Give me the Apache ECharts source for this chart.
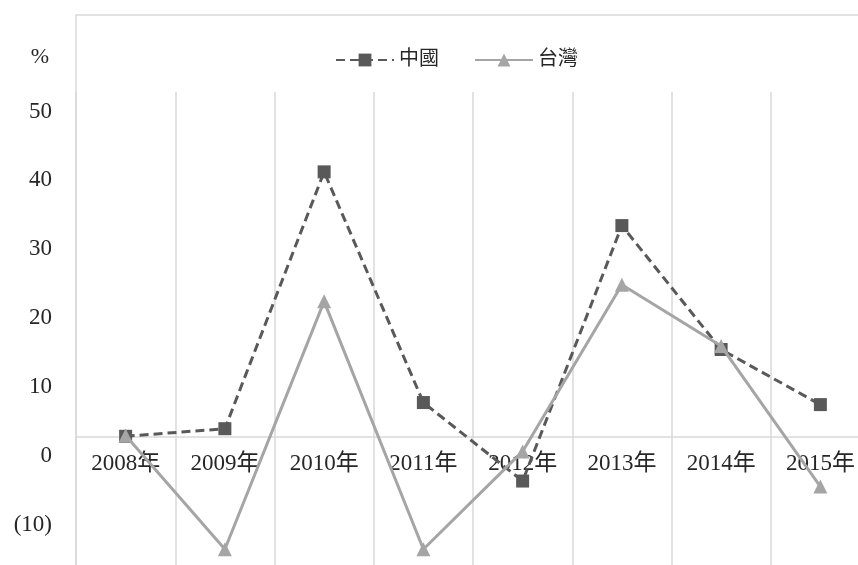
<!DOCTYPE html>
<html>
<head>
<meta charset="utf-8">
<script src="https://cdn.jsdelivr.net/npm/echarts@6/dist/echarts.min.js"></script>
<style>html,body{margin:0;padding:0;background:#fff;}#c{width:858px;height:565px;}</style>
</head>
<body>
<div id="c"></div>
<script>
const categories = ['2008年','2009年','2010年','2011年','2012年','2013年','2014年','2015年'];
const chinaValues = [0.0, 1.1, 38.4, 4.9, -6.5, 30.6, 12.6, 4.6];
const taiwanValues = [0.1, -16.4, 19.6, -16.4, -2.2, 22.0, 13.1, -7.3];
const seriesNames = ['中國', '台灣'];
const yUnit = '%';
const yMin = -20, yMax = 50, yStep = 10;

const FONT = '"Liberation Serif", "Noto Sans CJK TC", serif';
const gridTop = 92, gridBottom = -9, H = 565;
const plotH = H - gridTop - gridBottom;
const zeroOffset = -((0 - yMin) / (yMax - yMin)) * plotH;

const chart = echarts.init(document.getElementById('c'), null, {renderer: 'canvas'});
chart.setOption({
  backgroundColor: '#ffffff',
  animation: false,
  graphic: [{
    type: 'rect', z: -10, silent: true,
    shape: {x: 76, y: 15, width: 900, height: 700},
    style: {fill: null, stroke: '#d9d9d9', lineWidth: 1.5}
  }],
  legend: {
    left: 330, top: 45,
    itemWidth: 58, itemHeight: 16, itemGap: 35,
    textStyle: {fontFamily: FONT, fontSize: 20, color: '#262626'},
    data: seriesNames
  },
  grid: {left: 76, right: -12, top: gridTop, bottom: gridBottom, containLabel: false, outerBoundsMode: 'none'},
  xAxis: [{
    type: 'category',
    data: categories,
    boundaryGap: true,
    axisLine: {show: false},
    axisTick: {show: false},
    axisLabel: {show: false},
    splitLine: {show: true, lineStyle: {color: '#d9d9d9', width: 1.5}}
  }, {
    type: 'category',
    data: categories,
    position: 'bottom',
    boundaryGap: true,
    offset: zeroOffset,
    axisLine: {show: true, onZero: false, lineStyle: {color: '#d9d9d9', width: 1.5}},
    axisTick: {show: false},
    splitLine: {show: false},
    axisLabel: {fontFamily: FONT, fontSize: 23, color: '#262626', margin: 16, interval: 0}
  }],
  yAxis: {
    type: 'value',
    min: yMin, max: yMax, interval: yStep,
    name: yUnit,
    nameLocation: 'end',
    nameGap: 24,
    nameTextStyle: {fontFamily: FONT, fontSize: 22, color: '#262626', padding: [0, 72, 0, 0]},
    axisLine: {show: false},
    axisTick: {show: false},
    splitLine: {show: false},
    axisLabel: {
      fontFamily: FONT, fontSize: 23, color: '#262626', margin: 24,
      verticalAlign: 'top', padding: [8, 0, 0, 0],
      formatter: v => v < 0 ? '(' + Math.abs(v) + ')' : String(v)
    }
  },
  series: [
    {
      name: seriesNames[0], type: 'line', data: chinaValues, xAxisIndex: 0,
      symbol: 'rect', symbolSize: 13,
      itemStyle: {color: '#595959'},
      lineStyle: {color: '#595959', width: 3, type: [9, 5]},
      z: 2
    },
    {
      name: seriesNames[1], type: 'line', data: taiwanValues, xAxisIndex: 0,
      symbol: 'triangle', symbolSize: 14,
      itemStyle: {color: '#a5a5a5'},
      lineStyle: {color: '#a5a5a5', width: 3},
      z: 3
    }
  ]
});
</script>
</body>
</html>
